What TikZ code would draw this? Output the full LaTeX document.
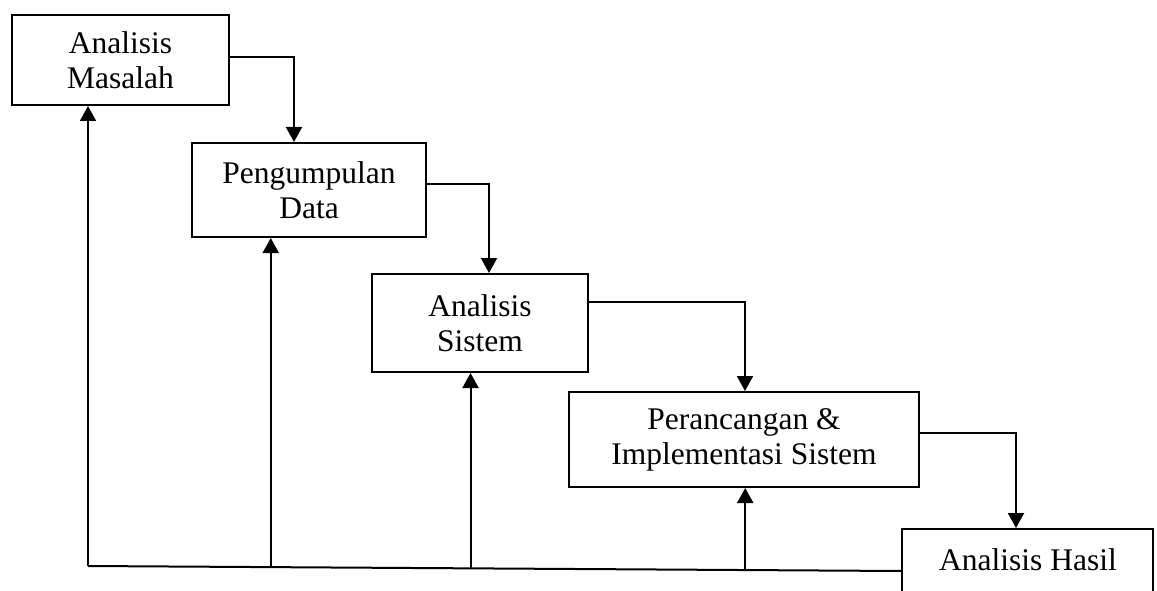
\documentclass[tikz,border=0pt]{standalone}
\usepackage{fontspec}
\setmainfont{Liberation Serif}
\usetikzlibrary{arrows.meta,calc}
\begin{document}
\begin{tikzpicture}[x=1pt,y=-1pt,
  box/.style={draw,line width=2pt,align=center,inner sep=0pt,
    font=\fontsize{31.5}{35}\selectfont},
  arr/.style={line width=2pt,-{Triangle[width=16pt,length=15pt]}},
  ln/.style={line width=2pt}]
\useasboundingbox (0,0) rectangle (1157,591);
\clip (0,0) rectangle (1157,591);
\node[box,minimum width=217pt,minimum height=90pt] (b1) at (120.5,60) {Analisis\\Masalah};
\node[box,minimum width=234pt,minimum height=94pt] (b2) at (309,190) {Pengumpulan\\Data};
\node[box,minimum width=216pt,minimum height=98pt] (b3) at (480,323) {Analisis\\Sistem};
\node[box,minimum width=350pt,minimum height=95pt] (b4) at (744,439.5) {Perancangan \&\\Implementasi Sistem};
\node[box,minimum width=251pt,minimum height=96pt] (b5) at (1027.5,577) {};
\node[font=\fontsize{31.5}{35}\selectfont,inner sep=0pt,anchor=base] (t5) at (1028,570) {Analisis Hasil};
% forward arrows
\draw[arr] ([yshift=3pt]b1.east) -| ([xshift=-15pt]b2.north);
\draw[arr] ([yshift=6pt]b2.east) -| ([xshift=9pt]b3.north);
\draw[arr] ([yshift=21pt]b3.east) -| ([xshift=1pt]b4.north);
\draw[arr] ([yshift=6.5pt]b4.east) -| ([xshift=-11.5pt]b5.north);
% feedback line
\coordinate (br) at ([yshift=6pt]b5.west);
\coordinate (bl) at (88,566);
\coordinate (p2) at ($(bl)!0.2248!(br)$);
\coordinate (p3) at ($(bl)!0.4705!(br)$);
\coordinate (p4) at ($(bl)!0.8084!(br)$);
\draw[ln] (br) -- (bl);
\draw[arr] (bl) -- (bl |- b1.south);
\draw[arr] (p2) -- (p2 |- b2.south);
\draw[arr] (p3) -- (p3 |- b3.south);
\draw[arr] (p4) -- (p4 |- b4.south);
\end{tikzpicture}
\end{document}
